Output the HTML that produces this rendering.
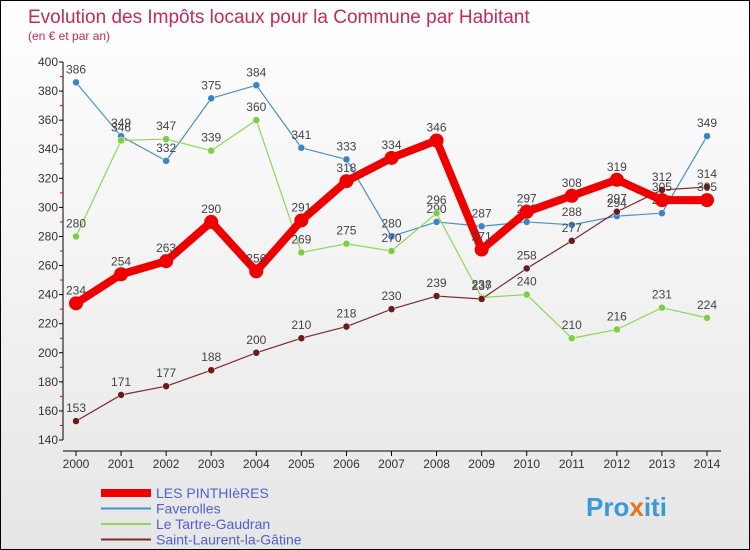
<!DOCTYPE html>
<html><head><meta charset="utf-8"><style>
body{margin:0}
#c{width:750px;height:550px;position:relative;background:linear-gradient(#fff,#e6e6e6);border:1px solid #000;box-sizing:border-box;font-family:"Liberation Sans",sans-serif;overflow:hidden}
</style></head><body>
<div id="c">
<svg id="s" width="750" height="550" style="position:absolute;left:0;top:0">
<text x="27" y="22" font-size="19" fill="#c8285a">Evolution des Impôts locaux pour la Commune par Habitant</text>
<text x="27" y="39" font-size="12" fill="#c8285a">(en € et par an)</text>
<g id="axes"></g><g id="series"></g><g id="legend"></g>
<text x="585" y="515" font-size="26" font-weight="bold" fill="#3a9ad9">Pro<tspan fill="#e8731a">x</tspan>iti</text>
</svg>
</div>
<script>
const years=[2000,2001,2002,2003,2004,2005,2006,2007,2008,2009,2010,2011,2012,2013,2014];
const yTicks=[140,160,180,200,220,240,260,280,300,320,340,360,380,400];
const seriesNames=["LES PINTHIèRES","Faverolles","Le Tartre-Gaudran","Saint-Laurent-la-Gâtine"];
const pinthieres=[234,254,263,290,256,291,318,334,346,271,297,308,319,305,305];
const faverolles=[386,349,332,375,384,341,333,280,290,287,290,288,294,296,349];
const tartre=[280,346,347,339,360,269,275,270,296,238,240,210,216,231,224];
const stlaurent=[153,171,177,188,200,210,218,230,239,237,258,277,297,312,314];
const NS="http://www.w3.org/2000/svg";
function X(i){return 75+i*(706-75)/(years.length-1);}
function Y(v){return 61+(400-v)*(439-61)/(400-140);}
function el(t,a,p){const e=document.createElementNS(NS,t);for(const k in a)e.setAttribute(k,a[k]);p.appendChild(e);return e;}
const ax=document.getElementById('axes');
const yl=el('line',{x1:62,y1:61,x2:62,y2:439,stroke:'#000'},ax);


yTicks.forEach(v=>{
 el('line',{x1:58,y1:Y(v),x2:62,y2:Y(v),stroke:'#000'},ax);
 el('line',{x1:59,y1:Y(v+10),x2:62,y2:Y(v+10),stroke:v<400?'#e00':'none'},ax);
 const t=el('text',{x:57,y:Y(v)+4,'font-size':12,'text-anchor':'end',fill:'#333'},ax);t.textContent=v;
 
 
});
const xl=el('line',{x1:62,y1:450,x2:720,y2:450,stroke:'#000'},ax);


years.forEach((y,i)=>{
 el('line',{x1:X(i),y1:450,x2:X(i),y2:455,stroke:'#000'},ax);
 const t=el('text',{x:X(i),y:467,'font-size':12,'text-anchor':'middle',fill:'#333'},ax);t.textContent=y;
 
 
});
const sg=document.getElementById('series');
const defs=[[faverolles,'#4a90c8','#3a85c5',1.2,3.5,'faverolles'],[tartre,'#8fd65a','#7ccf45',1.2,3.5,'tartre-gaudran'],[stlaurent,'#7a2a2a','#6a1c1c',1.2,3.5,'saint-laurent'],[pinthieres,'#ee0000','#ee0000',8,7,'pinthieres']];
defs.forEach(([d,lc,pc,w,r,n])=>{
 const g=el('g',{},sg);
 
 
 const pl=el('polyline',{points:d.map((v,i)=>X(i)+','+Y(v)).join(' '),fill:'none',stroke:lc,'stroke-width':w,'stroke-linejoin':'round'},g);
 
 
 d.forEach((v,i)=>{
  const c=el('circle',{cx:X(i),cy:Y(v),r:r,fill:pc,stroke:r<5?'#fff':'none','stroke-width':0.5},g);
  
  
  const t=el('text',{x:X(i),y:Y(v)-9,'font-size':12,'text-anchor':'middle',fill:'#444'},g);t.textContent=v;
  
  
 });
});
const lg=document.getElementById('legend');
const lc=[['#ee0000',8],['#4a90c8',2],['#8fd65a',2],['#7a2a2a',2]];
seriesNames.forEach((n,i)=>{
 const y=492+i*15.5;
 const g=el('g',{},lg);
 
 
 el('line',{x1:100,y1:y,x2:150,y2:y,stroke:lc[i][0],'stroke-width':lc[i][1]},g);
 const t=el('text',{x:155,y:y+5,'font-size':14,fill:'#5060d0'},g);t.textContent=n;
});
</script>
</body></html>
